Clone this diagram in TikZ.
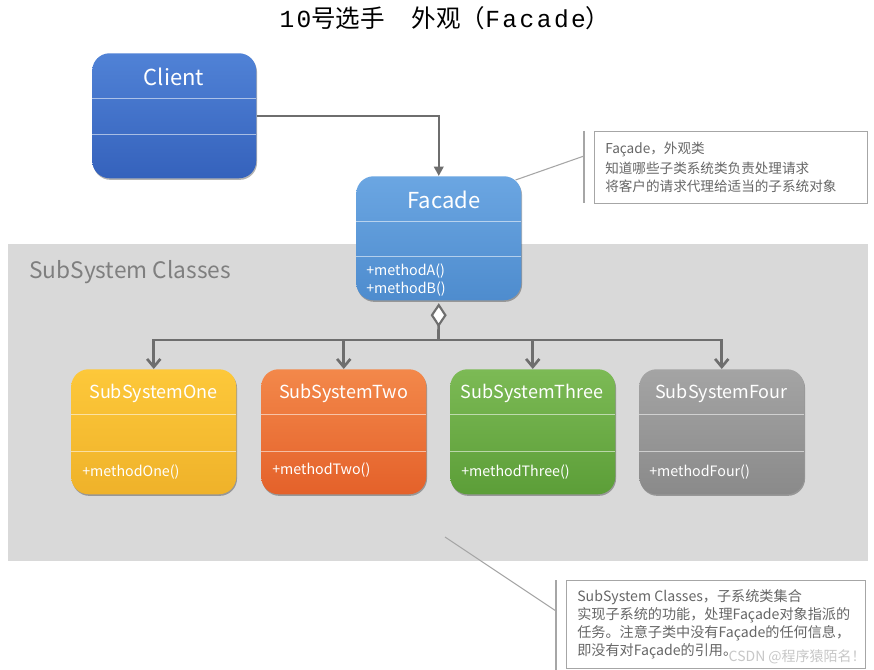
\documentclass[tikz,border=0pt]{standalone}
\usepackage{fontspec}
\setmainfont{Noto Sans CJK SC}
\newfontfamily\cjkfont{Noto Sans CJK SC}
\newfontfamily\monofont[LetterSpace=10]{Liberation Mono}
\usetikzlibrary{arrows.meta,shadows}
\definecolor{bgarea}{HTML}{D9D9D9}
\definecolor{areatext}{HTML}{7F7F7F}
\definecolor{conncol}{HTML}{6E6E6E}
\definecolor{notecol}{HTML}{A6A6A6}
\definecolor{notetext}{HTML}{666666}
\definecolor{clientTop}{HTML}{5082D6}
\definecolor{clientBot}{HTML}{3562BC}
\definecolor{facadeTop}{HTML}{6BA6E2}
\definecolor{facadeBot}{HTML}{4E8CCE}
\definecolor{oneTop}{HTML}{FDC83A}
\definecolor{oneBot}{HTML}{EFB22A}
\definecolor{twoTop}{HTML}{F3884A}
\definecolor{twoBot}{HTML}{E4612A}
\definecolor{threeTop}{HTML}{7CBA55}
\definecolor{threeBot}{HTML}{5C9E38}
\definecolor{fourTop}{HTML}{A4A4A4}
\definecolor{fourBot}{HTML}{8A8A8A}
\begin{document}
\begin{tikzpicture}[x=0.75pt,y=-0.75pt,
  classbox/.style={rectangle, rounded corners=13pt, minimum width=123.75pt,
    minimum height=93.75pt, inner sep=0pt, anchor=north west,
    drop shadow={shadow xshift=0.6pt, shadow yshift=-1.2pt, opacity=0.3, fill=black}},
  divline/.style={draw=white, draw opacity=0.55, line width=0.6pt},
  ctitle/.style={text=white, inner sep=0pt, font=\fontsize{16.5}{19}\selectfont},
  stitle/.style={text=white, inner sep=0pt, font=\fontsize{13.5}{16}\selectfont},
  meth/.style={text=white, inner sep=0pt, anchor=west, font=\fontsize{10.7}{13}\selectfont},
  conn/.style={draw=conncol, line width=2pt},
  barb/.style={-{Straight Barb[length=6pt,width=10pt,line width=2pt]}},
  notebox/.style={draw=notecol, line width=0.8pt, fill=white, anchor=north west, inner sep=0pt},
  notetxt/.style={text=notetext, inner sep=0pt, anchor=west, font=\fontsize{10.2}{12}\selectfont},
  noteline/.style={draw=notecol, line width=0.8pt}
]
\useasboundingbox (0,0) rectangle (874,670);
\fill[white] (0,0) rectangle (874,670);

% title
\node[inner sep=0pt, font=\fontsize{18.4}{21}\selectfont] (title) at (445,18)
  {{\monofont 10}{\cjkfont 号选手}\hspace{20pt}{\cjkfont 外观（}{\monofont Facade}{\cjkfont ）}};

% subsystem area
\node[rectangle, fill=bgarea, anchor=north west, inner sep=0pt,
  minimum width=645pt, minimum height=237.75pt] (area) at (8,244) {};
\node[text=areatext, inner sep=0pt, anchor=west, font=\fontsize{17}{19}\selectfont] (areaT) at (29,272) {SubSystem Classes};

% client
\node[classbox, top color=clientTop, bottom color=clientBot, minimum width=123pt] (client) at (92,53) {};
\draw[divline] (92,98) -- (256,98);
\draw[divline] (92,134) -- (256,134);
\node[ctitle] (clientT) at (174,77) {Client};

% facade
\node[classbox, top color=facadeTop, bottom color=facadeBot, minimum height=93pt] (facade) at (356,176) {};
\draw[divline] (356,221) -- (521,221);
\draw[divline] (356,256) -- (521,256);
\node[ctitle] (facadeT) at (444,200) {Facade};
\node[meth] (facadeM1) at (366,271) {+methodA()};
\node[meth] (facadeM2) at (366,289) {+methodB()};

% subsystems
\node[classbox, top color=oneTop, bottom color=oneBot] (one) at (71,369) {};
\node[classbox, top color=twoTop, bottom color=twoBot] (two) at (261,369) {};
\node[classbox, top color=threeTop, bottom color=threeBot] (three) at (450,369) {};
\node[classbox, top color=fourTop, bottom color=fourBot] (four) at (639,369) {};
\foreach \xl in {71,261,450,639}{
  \draw[divline] (\xl,414) -- (\xl+165,414);
  \draw[divline] (\xl,451) -- (\xl+165,451);
}
\node[stitle] (oneT) at (153.5,393) {SubSystemOne};
\node[stitle] (twoT) at (343.5,393) {SubSystemTwo};
\node[stitle] (threeT) at (532,393) {SubSystemThree};
\node[stitle] (fourT) at (721.5,393) {SubSystemFour};
\node[meth] (oneM) at (82,472) {+methodOne()};
\node[meth] (twoM) at (272,470) {+methodTwo()};
\node[meth] (threeM) at (461,472) {+methodThree()};
\node[meth] (fourM) at (649,472) {+methodFour()};

% connectors
\draw[draw=conncol, line width=1.8pt, -{Triangle[length=7pt,width=7pt]}] (client.east) -| (facade.north);
\coordinate (bus) at (438.5,340);
\draw[conn, {Diamond[open, fill=white, length=18pt, width=12pt, line width=1.6pt]}-] ([yshift=-2pt]facade.south) -- (bus);
\draw[conn, barb] (bus) -| (one.north);
\draw[conn, barb] (bus) -| (two.north);
\draw[conn, barb] (bus) -| (three.north);
\draw[conn, barb] (bus) -| (four.north);

% note 1
\node[notebox, minimum width=204.75pt, minimum height=54pt] (note1) at (594,131) {};
\coordinate (n1a) at (584,131);
\coordinate (n1b) at (584,203);
\coordinate (n1c) at (584,156);
\draw[noteline] (n1a) -- (n1b);
\draw[noteline] (facade.north east) ++(-6,4) coordinate (n1d) -- (n1c);
\node[notetxt] (note1L1) at (605,150) {Façade，外观类};
\node[notetxt] (note1L2) at (605,168) {知道哪些子类系统类负责处理请求};
\node[notetxt] (note1L3) at (605,186) {将客户的请求代理给适当的子系统对象};

% note 2
\node[notebox, minimum width=224.25pt, minimum height=66pt] (note2) at (566,580) {};
\coordinate (n2a) at (556,580);
\coordinate (n2b) at (556,670);
\coordinate (n2c) at (556,611);
\coordinate (n2d) at (445,537);
\draw[noteline] (n2a) -- (n2b);
\draw[noteline] (n2d) -- (n2c);
\node[notetxt, font=\fontsize{10.6}{12}\selectfont] (note2L1) at (577,597) {SubSystem Classes，子系统类集合};
\node[notetxt, font=\fontsize{10.6}{12}\selectfont] (note2L2) at (577,615) {实现子系统的功能，处理Façade对象指派的};
\node[notetxt, font=\fontsize{10.6}{12}\selectfont] (note2L3) at (577,633) {任务。注意子类中没有Façade的任何信息，};
\node[notetxt, font=\fontsize{10.6}{12}\selectfont] (note2L4) at (577,651) {即没有对Façade的引用。};
\node[text=black!22, inner sep=0pt, anchor=east, font=\fontsize{10.5}{12}\selectfont] (wm) at (866,657) {CSDN @程序猿陌名！};
\end{tikzpicture}
\end{document}
